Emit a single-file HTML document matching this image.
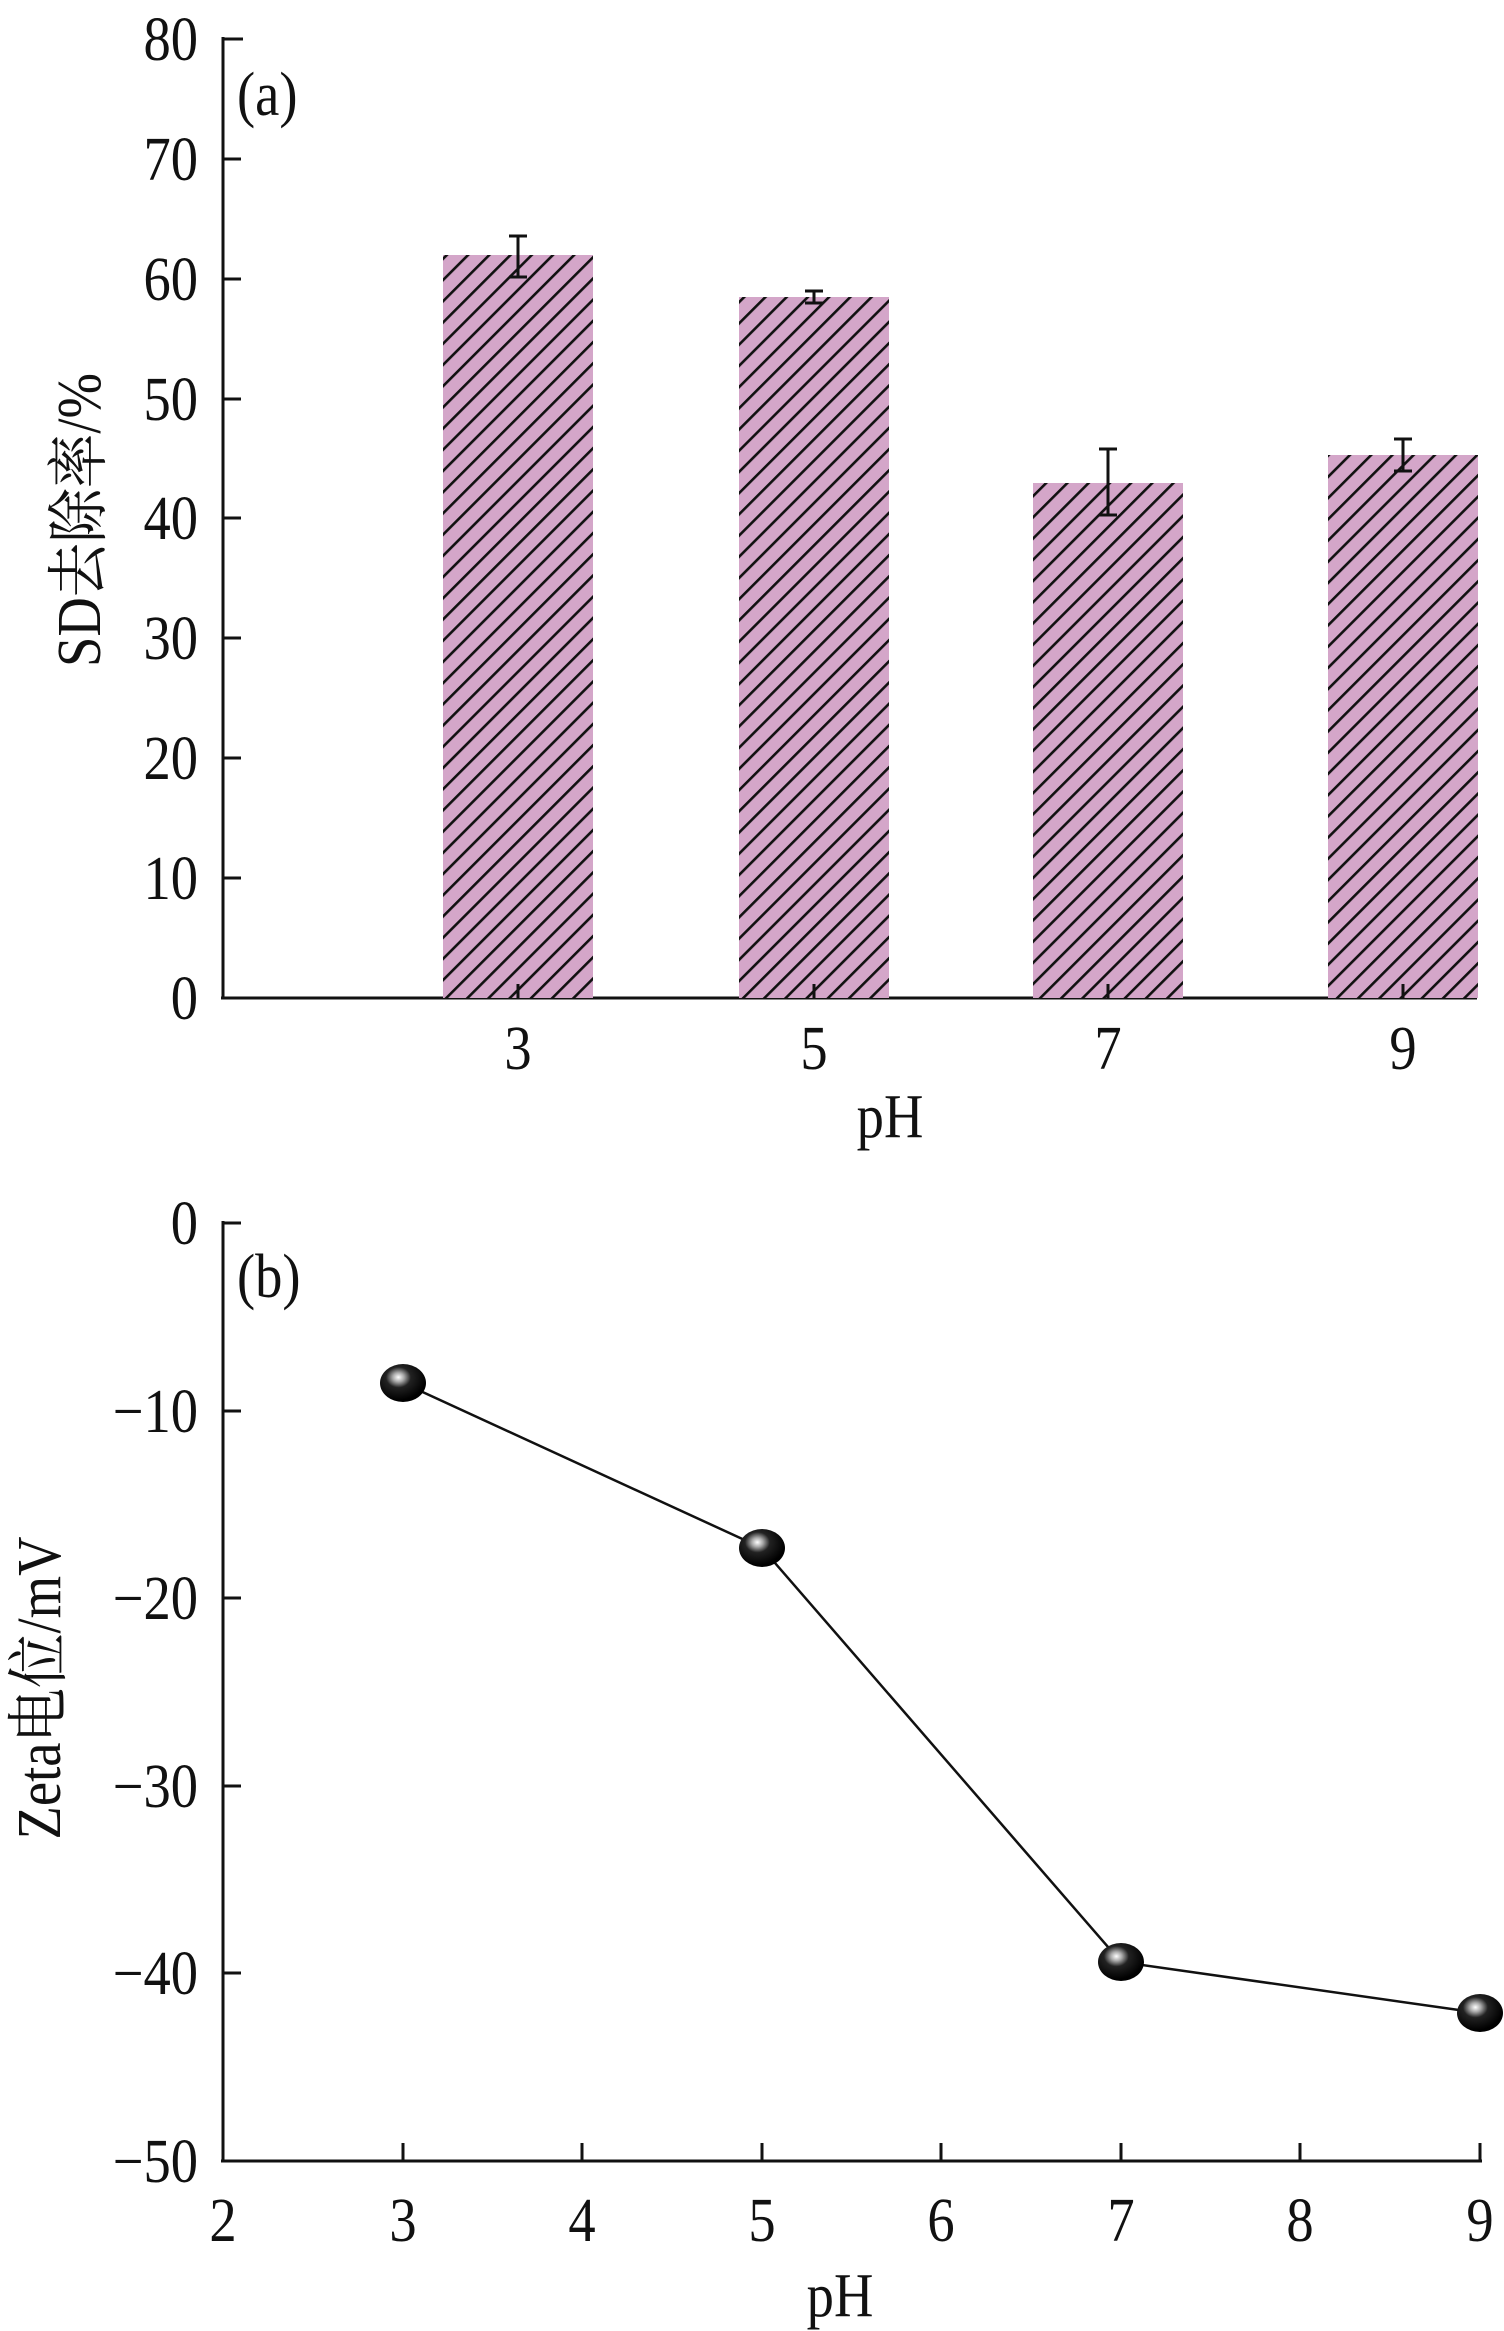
<!DOCTYPE html>
<html><head><meta charset="utf-8"><style>body{margin:0;background:#fff}svg{display:block}</style></head><body>
<svg width="1504" height="2331" viewBox="0 0 1504 2331" xmlns="http://www.w3.org/2000/svg" font-family="Liberation Serif, Noto Serif CJK SC, serif" fill="#111">
<defs>
<pattern id="h" patternUnits="userSpaceOnUse" width="15" height="15" patternTransform="rotate(45)">
<rect width="15" height="15" fill="#d4a6c9"/><rect x="0" y="0" width="2.6" height="15" fill="#111"/>
</pattern>
<radialGradient id="m" cx="0.4" cy="0.35" r="0.6">
<stop offset="0" stop-color="#fff"/><stop offset="0.2" stop-color="#aaa"/><stop offset="0.45" stop-color="#222"/><stop offset="1" stop-color="#000"/>
</radialGradient>
</defs>
<!-- Panel a -->
<g stroke="#111" stroke-width="3" fill="none">
<line x1="223" y1="37" x2="223" y2="999"/>
<line x1="221" y1="998" x2="1477" y2="998"/>
<line x1="223" y1="39" x2="243" y2="39"/>
<line x1="223" y1="159" x2="241" y2="159"/>
<line x1="223" y1="279" x2="241" y2="279"/>
<line x1="223" y1="399" x2="241" y2="399"/>
<line x1="223" y1="518" x2="241" y2="518"/>
<line x1="223" y1="638" x2="241" y2="638"/>
<line x1="223" y1="758" x2="241" y2="758"/>
<line x1="223" y1="878" x2="241" y2="878"/>
</g>
<rect x="443" y="255" width="150" height="743" fill="url(#h)"/>
<rect x="739" y="297" width="150" height="701" fill="url(#h)"/>
<rect x="1033" y="483" width="150" height="515" fill="url(#h)"/>
<rect x="1328" y="455" width="150" height="543" fill="url(#h)"/>
<g stroke="#111" stroke-width="3">
<line x1="518" y1="998" x2="518" y2="984"/><line x1="814" y1="998" x2="814" y2="984"/><line x1="1108" y1="998" x2="1108" y2="984"/><line x1="1403" y1="998" x2="1403" y2="984"/>
<line x1="518" y1="236" x2="518" y2="277"/><line x1="509" y1="236" x2="527" y2="236"/><line x1="509" y1="277" x2="527" y2="277"/>
<line x1="814" y1="291" x2="814" y2="303"/><line x1="805" y1="291" x2="823" y2="291"/><line x1="805" y1="303" x2="823" y2="303"/>
<line x1="1108" y1="449" x2="1108" y2="515"/><line x1="1099" y1="449" x2="1117" y2="449"/><line x1="1099" y1="515" x2="1117" y2="515"/>
<line x1="1403" y1="439" x2="1403" y2="471"/><line x1="1394" y1="439" x2="1412" y2="439"/><line x1="1394" y1="471" x2="1412" y2="471"/>
</g>
<g font-size="62" text-anchor="end">
<text transform="translate(198,60) scale(0.88,1)">80</text>
<text transform="translate(198,180) scale(0.88,1)">70</text>
<text transform="translate(198,300) scale(0.88,1)">60</text>
<text transform="translate(198,420) scale(0.88,1)">50</text>
<text transform="translate(198,539) scale(0.88,1)">40</text>
<text transform="translate(198,659) scale(0.88,1)">30</text>
<text transform="translate(198,779) scale(0.88,1)">20</text>
<text transform="translate(198,899) scale(0.88,1)">10</text>
<text transform="translate(198,1019) scale(0.88,1)">0</text>
</g>
<g font-size="62" text-anchor="middle">
<text transform="translate(518,1069) scale(0.88,1)">3</text>
<text transform="translate(814,1069) scale(0.88,1)">5</text>
<text transform="translate(1108,1069) scale(0.88,1)">7</text>
<text transform="translate(1403,1069) scale(0.88,1)">9</text>
<text transform="translate(890,1137) scale(0.88,1)">pH</text>
<text transform="translate(100,520) rotate(-90) scale(0.88,1)">SD去除率/%</text>
</g>
<text font-size="62" transform="translate(237,115) scale(0.88,1)">(a)</text>
<!-- Panel b -->
<g stroke="#111" stroke-width="3" fill="none">
<line x1="223" y1="1221" x2="223" y2="2162"/>
<line x1="221" y1="2161" x2="1482" y2="2161"/>
<line x1="223" y1="1223" x2="241" y2="1223"/>
<line x1="223" y1="1411" x2="241" y2="1411"/>
<line x1="223" y1="1598" x2="241" y2="1598"/>
<line x1="223" y1="1786" x2="241" y2="1786"/>
<line x1="223" y1="1973" x2="241" y2="1973"/>
<line x1="403" y1="2161" x2="403" y2="2143"/><line x1="582" y1="2161" x2="582" y2="2143"/><line x1="762" y1="2161" x2="762" y2="2143"/><line x1="941" y1="2161" x2="941" y2="2143"/><line x1="1121" y1="2161" x2="1121" y2="2143"/><line x1="1300" y1="2161" x2="1300" y2="2143"/><line x1="1480" y1="2161" x2="1480" y2="2143"/>
<polyline stroke-width="2.5" points="403,1383 762,1548 1121,1962 1480,2013"/>
</g>
<g>
<ellipse cx="403" cy="1383" rx="23" ry="19" fill="url(#m)"/>
<ellipse cx="762" cy="1548" rx="23" ry="19" fill="url(#m)"/>
<ellipse cx="1121" cy="1962" rx="23" ry="19" fill="url(#m)"/>
<ellipse cx="1480" cy="2013" rx="23" ry="19" fill="url(#m)"/>
</g>
<g font-size="62" text-anchor="end">
<text transform="translate(198,1244) scale(0.88,1)">0</text>
<text transform="translate(198,1432) scale(0.88,1)">−10</text>
<text transform="translate(198,1619) scale(0.88,1)">−20</text>
<text transform="translate(198,1807) scale(0.88,1)">−30</text>
<text transform="translate(198,1994) scale(0.88,1)">−40</text>
<text transform="translate(198,2182) scale(0.88,1)">−50</text>
</g>
<g font-size="62" text-anchor="middle">
<text transform="translate(223,2241) scale(0.88,1)">2</text>
<text transform="translate(403,2241) scale(0.88,1)">3</text>
<text transform="translate(582,2241) scale(0.88,1)">4</text>
<text transform="translate(762,2241) scale(0.88,1)">5</text>
<text transform="translate(941,2241) scale(0.88,1)">6</text>
<text transform="translate(1121,2241) scale(0.88,1)">7</text>
<text transform="translate(1300,2241) scale(0.88,1)">8</text>
<text transform="translate(1480,2241) scale(0.88,1)">9</text>
<text transform="translate(840,2316) scale(0.88,1)">pH</text>
<text transform="translate(60,1688) rotate(-90) scale(0.88,1)">Zeta电位/mV</text>
</g>
<text font-size="62" transform="translate(237,1297) scale(0.88,1)">(b)</text>
</svg>
</body></html>
